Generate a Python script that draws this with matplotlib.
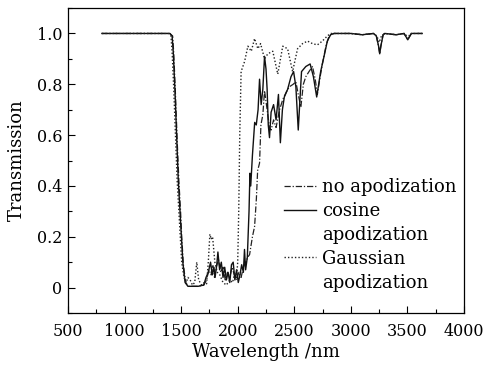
import numpy as np
import matplotlib
matplotlib.use("Agg")
import matplotlib.pyplot as plt
from matplotlib.lines import Line2D
from matplotlib.ticker import MultipleLocator, FuncFormatter

plt.rcParams['font.family'] = ['DejaVu Serif']

# cosine apodization (solid)
cos_wl = [800, 1000, 1200, 1400, 1420, 1430, 1445, 1460, 1475, 1490, 1500, 1515, 1535, 1560,
          1600, 1650, 1700, 1720, 1740, 1760, 1775, 1790, 1800, 1815, 1825, 1840, 1855, 1870,
          1885, 1900, 1915, 1930, 1945, 1960, 1975, 1990, 2005, 2020, 2035, 2050, 2060, 2070,
          2085, 2100, 2108, 2115, 2130, 2150, 2164, 2180, 2193, 2207, 2222, 2237, 2250, 2260,
          2270, 2281, 2295, 2317, 2339, 2360, 2377, 2395, 2412, 2441, 2471, 2494, 2514, 2535,
          2550, 2564, 2602, 2640, 2669, 2698, 2733, 2763, 2792, 2821, 2850, 2900, 3000, 3100,
          3200, 3225, 3245, 3255, 3265, 3285, 3300, 3400, 3470, 3490, 3503, 3515, 3535, 3600, 3630]
cos_t = [1.0, 1.0, 1.0, 1.0, 0.99, 0.93, 0.78, 0.6, 0.42, 0.3, 0.22, 0.1, 0.02, 0.005,
         0.005, 0.005, 0.01, 0.04, 0.06, 0.1, 0.05, 0.08, 0.04, 0.09, 0.14, 0.07, 0.1, 0.04,
         0.08, 0.03, 0.06, 0.02, 0.09, 0.1, 0.03, 0.07, 0.02, 0.05, 0.09, 0.06, 0.15, 0.07,
         0.12, 0.3, 0.45, 0.4, 0.52, 0.65, 0.64, 0.7, 0.82, 0.72, 0.78, 0.91, 0.86, 0.78,
         0.64, 0.59, 0.69, 0.72, 0.66, 0.76, 0.57, 0.7, 0.75, 0.78, 0.83, 0.85, 0.79, 0.62,
         0.74, 0.85, 0.87, 0.88, 0.83, 0.75, 0.85, 0.91, 0.97, 0.995, 1.0, 1.0, 1.0, 0.995,
         1.0, 0.99, 0.95, 0.92, 0.95, 0.995, 1.0, 0.995, 1.0, 0.985, 0.975, 0.985, 1.0, 1.0, 1.0]

# no apodization (dash-dot)
no_wl = [800, 1000, 1200, 1400, 1425, 1435, 1450, 1465, 1480, 1495, 1505, 1520, 1540, 1565,
         1600, 1650, 1700, 1725, 1745, 1765, 1780, 1795, 1810, 1830, 1850, 1870, 1890, 1910,
         1930, 1950, 1970, 1990, 2010, 2030, 2050, 2070, 2090, 2105, 2130, 2149, 2165, 2176,
         2193, 2205, 2222, 2237, 2260, 2280, 2295, 2317, 2339, 2370, 2398, 2430, 2456, 2490,
         2514, 2535, 2558, 2580, 2602, 2630, 2661, 2685, 2704, 2725, 2748, 2780, 2807, 2850,
         2900, 3000, 3100, 3200, 3225, 3245, 3255, 3265, 3285, 3300, 3400, 3470, 3490, 3503,
         3515, 3535, 3600, 3630]
no_t = [1.0, 1.0, 1.0, 1.0, 0.99, 0.92, 0.76, 0.58, 0.42, 0.3, 0.2, 0.09, 0.02, 0.005,
        0.005, 0.005, 0.01, 0.03, 0.07, 0.05, 0.09, 0.04, 0.08, 0.11, 0.06, 0.08, 0.03, 0.06,
        0.04, 0.08, 0.05, 0.03, 0.06, 0.04, 0.08, 0.1, 0.12, 0.13, 0.2, 0.24, 0.35, 0.46,
        0.49, 0.64, 0.68, 0.775, 0.7, 0.63, 0.62, 0.66, 0.63, 0.7, 0.74, 0.77, 0.79, 0.8,
        0.81, 0.76, 0.71, 0.8, 0.83, 0.85, 0.87, 0.82, 0.76, 0.82, 0.88, 0.95, 0.99, 1.0,
        1.0, 1.0, 0.995, 1.0, 0.99, 0.95, 0.92, 0.95, 0.995, 1.0, 0.995, 1.0, 0.985, 0.975,
        0.985, 1.0, 1.0, 1.0]

# Gaussian apodization (dotted)
gau_wl = [800, 1000, 1200, 1390, 1410, 1420, 1435, 1450, 1465, 1480, 1490, 1505, 1525, 1545,
          1560, 1580, 1600, 1620, 1638, 1655, 1680, 1705, 1725, 1740, 1754, 1766, 1778, 1798,
          1820, 1842, 1870, 1900, 1930, 1955, 1974, 1990, 2000, 2009, 2018, 2030, 2061, 2090,
          2120, 2149, 2178, 2202, 2237, 2266, 2310, 2354, 2398, 2441, 2485, 2529, 2573, 2617,
          2661, 2704, 2748, 2792, 2821, 2900, 3000, 3100, 3200, 3230, 3250, 3270, 3300, 3400,
          3480, 3503, 3525, 3600, 3630]
gau_t = [1.0, 1.0, 1.0, 1.0, 0.99, 0.93, 0.78, 0.6, 0.42, 0.3, 0.22, 0.1, 0.04, 0.02,
         0.04, 0.03, 0.01, 0.02, 0.1, 0.03, 0.01, 0.02, 0.015, 0.1, 0.21, 0.19, 0.2, 0.1,
         0.06, 0.05, 0.02, 0.01, 0.03, 0.02, 0.06, 0.04, 0.1, 0.3, 0.6, 0.85, 0.89, 0.95,
         0.93, 0.98, 0.94, 0.96, 0.9, 0.92, 0.93, 0.84, 0.95, 0.94, 0.85, 0.94, 0.96, 0.97,
         0.96, 0.955, 0.97, 0.99, 1.0, 1.0, 1.0, 0.995, 1.0, 0.99, 0.965, 0.99, 1.0, 0.995,
         1.0, 0.98, 1.0, 1.0, 1.0]

fig = plt.figure(figsize=(4.87, 3.66), dpi=100)
ax = fig.add_axes([0.1396, 0.1448, 0.8132, 0.8332])

l_no, = ax.plot(no_wl, no_t, color='#222222', lw=0.9, linestyle=(0, (5, 1.5, 1, 1.5)))
l_cos, = ax.plot(cos_wl, cos_t, color='#111111', lw=1.0, linestyle='-')
l_gau, = ax.plot(gau_wl, gau_t, color='#222222', lw=1.0, linestyle=(0, (1, 1.5)))

ax.set_xlim(500, 4000)
ax.set_ylim(-0.1, 1.1)
ax.xaxis.set_major_locator(MultipleLocator(500))
ax.xaxis.set_minor_locator(MultipleLocator(250))
ax.yaxis.set_major_locator(MultipleLocator(0.2))
ax.yaxis.set_minor_locator(MultipleLocator(0.1))
ax.yaxis.set_major_formatter(FuncFormatter(lambda v, p: '0' if abs(v) < 1e-9 else f'{v:.1f}'))
ax.tick_params(which='both', direction='in', labelsize=11.5, top=False, right=False)
ax.tick_params(which='major', length=5, width=0.8)
ax.tick_params(which='minor', length=3, width=0.8)
ax.tick_params(axis='x', pad=7)
ax.tick_params(axis='y', pad=4)
for s in ax.spines.values():
    s.set_linewidth(0.9)

ax.set_xlabel('Wavelength /nm', fontsize=13, labelpad=2)
ax.set_ylabel('Transmission', fontsize=13, labelpad=8)

# second lines of the two-line labels get an empty handle so the line sits by the first line
blank = Line2D([], [], linestyle='none')
ax.legend([l_no, l_cos, blank, l_gau, blank],
          ['no apodization', 'cosine', 'apodization', 'Gaussian', 'apodization'],
          loc='upper left', bbox_to_anchor=(0.545, 0.443), frameon=False, fontsize=13,
          handlelength=1.8, handletextpad=0.33, labelspacing=0.33, borderpad=0,
          borderaxespad=0)

fig.savefig('out.png', dpi=100)
